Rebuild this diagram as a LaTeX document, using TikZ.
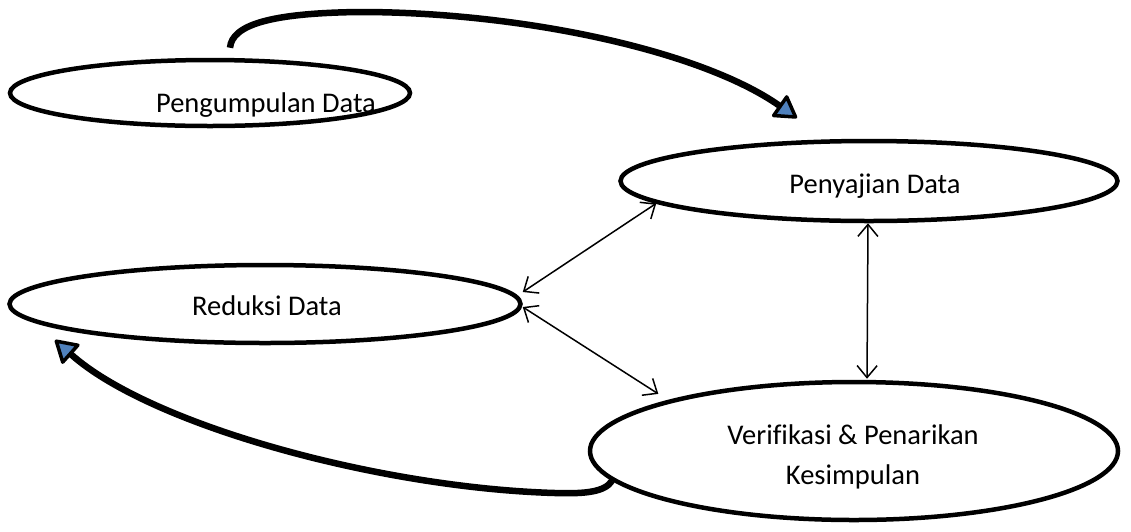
\documentclass[tikz,border=0pt]{standalone}
\usepackage{fontspec}
\setmainfont[Ligatures=NoCommon]{Carlito}
\usetikzlibrary{shapes.geometric,arrows.meta}
\definecolor{wordblue}{RGB}{79,129,189}
\tikzset{
  oval/.style={ellipse, draw=black, line width=4.5pt, fill=white, inner sep=0pt},
  lbl/.style={font=\fontsize{28.5}{40}\selectfont, inner sep=0pt, align=center},
  twoway/.style={line width=1.5pt, {Straight Barb[length=12pt,width=20pt,line width=1.5pt]}-{Straight Barb[length=12pt,width=20pt,line width=1.5pt]}},
  bigarrow/.style={line width=6.5pt, line cap=butt, -{Triangle[length=24pt,width=28pt,fill=wordblue,line width=3.5pt,round]}}
}
\begin{document}
\begin{tikzpicture}[x=1pt,y=-1pt]
\useasboundingbox (0,0) rectangle (1131,531);
% ovals
\node[oval, minimum width=400pt, minimum height=66pt] (peng) at (210,93) {};
\node[oval, minimum width=497pt, minimum height=80pt] (pen) at (869,181) {};
\node[oval, minimum width=511pt, minimum height=78pt] (red) at (265,304) {};
\node[oval, minimum width=528pt, minimum height=138pt] (ver) at (854,451) {};
% labels
\node[lbl, anchor=base] (tpeng) at (266,112) {Pengumpulan Data};
\node[lbl, anchor=base] (tpen) at (875,193) {Penyajian Data};
\node[lbl, anchor=base] (tred) at (267,315) {Reduksi Data};
\node[lbl] (tver) at (853,457) {Verifikasi \& Penarikan\\Kesimpulan};
% thin double arrows
\draw[twoway] ([yshift=12pt]red.east) -- (pen.186);
\draw[twoway] ([yshift=-3pt]red.east) -- ([xshift=-14pt,yshift=5pt]ver.164);
\draw[twoway] ([xshift=-1pt]pen.south) -- ([xshift=13pt,yshift=1pt]ver.north);
% thick curved arrows
\coordinate (e1) at (797,118);
\coordinate (e2) at (55,340);
\draw[bigarrow] ([shift={(20pt,10pt)}]peng.north) .. controls (232,25) and (270,13) .. (360,12)
  .. controls (520,12) and (700,50) .. (e1);
\draw[bigarrow] (ver.187.5) .. controls (605,492) and (585,494) .. (555,493)
  .. controls (380,488) and (150,425) .. (e2);
\end{tikzpicture}
\end{document}
